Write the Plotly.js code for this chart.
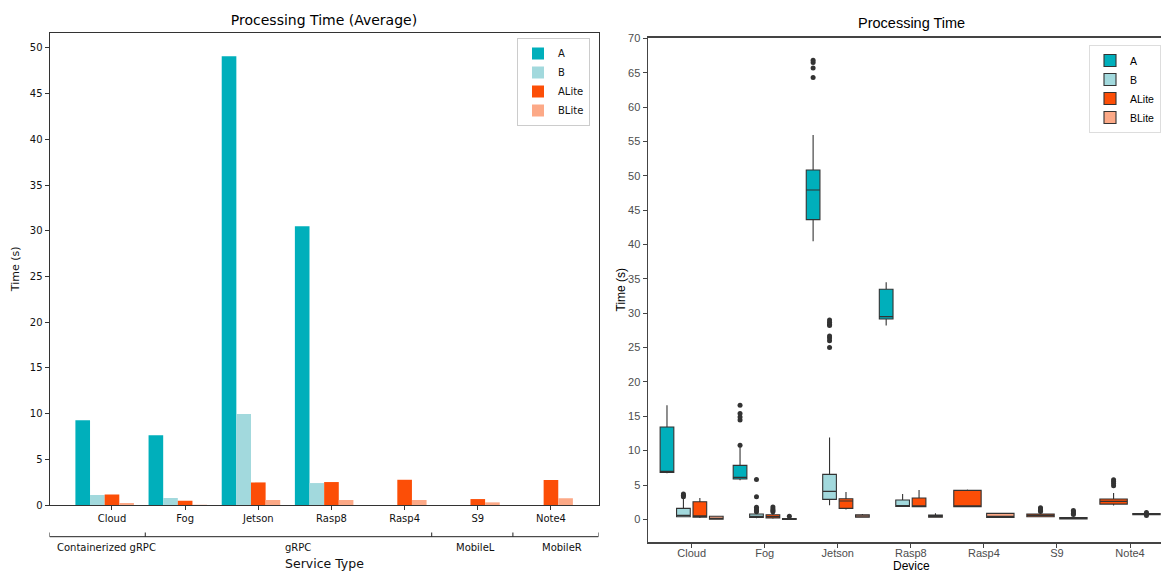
<!DOCTYPE html>
<html>
<head>
<meta charset="utf-8">
<script src="https://cdn.plot.ly/plotly-3.0.1.min.js"></script>
<style>html,body{margin:0;padding:0;background:#fff;overflow:hidden}#chart{width:1161px;height:572px}</style>
</head>
<body>
<div id="chart"></div>
<script>
// ---------- Left chart data: average processing time (s) ----------
const categories = ["Cloud", "Fog", "Jetson", "Rasp8", "Rasp4", "S9", "Note4"];
const seriesNames = ["A", "B", "ALite", "BLite"];
const avgA     = [9.27, 7.64, 49.1, 30.5, 0, 0, 0];
const avgB     = [1.09, 0.76, 9.96, 2.4, 0, 0, 0];
const avgALite = [1.16, 0.47, 2.47, 2.51, 2.76, 0.65, 2.73];
const avgBLite = [0.22, 0.03, 0.55, 0.55, 0.55, 0.29, 0.73];

// service-type grouping under the left chart (category-index boundaries)
const serviceTypes = ["Containerized gRPC", "gRPC", "MobileL", "MobileR"];
const serviceBounds = [-0.854, 0.455, 4.37, 5.48, 6.65];
const serviceLabelPos = [-0.08, 2.54, 4.97, 6.15];

// ---------- Right chart data: box statistics (s); null = no outliers ----------
const boxCats4 = ["Cloud", "Fog", "Jetson", "Rasp8"];
const boxCats2 = ["Rasp4", "S9", "Note4"];

const aQ1  = [6.84, 5.87, 43.62, 29.16];
const aMed = [6.99, 6.11, 47.94, 29.5];
const aQ3  = [13.45, 7.86, 50.85, 33.48];
const aLo  = [6.7, 5.7, 40.47, 28.2];
const aHi  = [16.6, 10.6, 55.94, 34.5];
const aOut = [[null], [10.8, 14.45, 14.9, 15.4, 16.6], [64.3, 65.7, 66.5, 66.8], [null]];

const bQ1  = [0.38, 0.29, 2.91, 1.86];
const bMed = [0.58, 0.46, 4.07, 2.0];
const bQ3  = [1.6, 0.77, 6.55, 2.81];
const bLo  = [0.3, 0.15, 2.06, 1.8];
const bHi  = [3.05, 1.0, 11.92, 3.68];
const bOut = [[3.3, 3.5, 3.7], [1.1, 1.3, 1.5, 1.75, 3.29, 5.8], [25.0, 26.0, 26.4, 26.7, 28.2, 28.4, 28.7, 29.0], [null]];

const alQ1  = [0.33, 0.19, 1.6, 1.84];
const alMed = [0.5, 0.4, 2.66, 1.98];
const alQ3  = [2.56, 0.67, 3.0, 3.1];
const alLo  = [0.2, 0.1, 1.45, 1.8];
const alHi  = [3.12, 0.9, 3.97, 4.26];
const alOut = [[null], [1.1, 1.3, 1.5, 1.8], [null], [null]];

const blQ1  = [0.02, 0.0, 0.3, 0.3];
const blMed = [0.08, 0.05, 0.48, 0.48];
const blQ3  = [0.45, 0.12, 0.66, 0.62];
const blLo  = [0.0, 0.0, 0.25, 0.25];
const blHi  = [0.5, 0.2, 0.77, 0.87];
const blOut = [[null], [0.45], [null], [null]];

const al2Q1  = [1.84, 0.38, 2.22];
const al2Med = [1.98, 0.58, 2.62];
const al2Q3  = [4.22, 0.77, 2.97];
const al2Lo  = [1.8, 0.3, 2.0];
const al2Hi  = [4.33, 1.0, 3.85];
const al2Out = [[null], [1.15, 1.3, 1.5, 1.7], [4.9, 5.2, 5.5, 5.75]];

const bl2Q1  = [0.27, 0.05, 0.68];
const bl2Med = [0.43, 0.15, 0.75];
const bl2Q3  = [0.87, 0.25, 0.86];
const bl2Lo  = [0.2, 0.0, 0.6];
const bl2Hi  = [0.92, 0.4, 0.9];
const bl2Out = [[null], [0.7, 0.9, 1.1, 1.3], [0.55, 0.98]];

// ---------- styling ----------
const colors = {A: "#00AFBB", B: "#A2D9DD", ALite: "#FC4E07", BLite: "#FCA987"};
const W = 1161, H = 572;
const mplFont = "DejaVu Sans";
const ggFont = "Liberation Sans, Arial, sans-serif";

const barSeries = [avgA, avgB, avgALite, avgBLite];
const barOffsets = [-0.5, -0.3, -0.1, 0.1];
const traces = [];
seriesNames.forEach((name, i) => {
  traces.push({
    type: "bar", name: name, x: categories, y: barSeries[i],
    xaxis: "x", yaxis: "y", offset: barOffsets[i], width: 0.2,
    marker: {color: colors[name], line: {width: 0}},
    legend: "legend", hoverinfo: "skip"
  });
});

function boxTrace(name, cats, q1, med, q3, lo, hi, out, group, showLegend) {
  return {
    type: "box", name: name, x: cats, y: out,
    q1: q1, median: med, q3: q3, lowerfence: lo, upperfence: hi,
    xaxis: "x2", yaxis: "y2",
    boxpoints: "outliers", jitter: 0, pointpos: 0, whiskerwidth: 0,
    fillcolor: colors[name],
    line: {color: "#333333", width: 1.1},
    marker: {color: "#333333", size: 5},
    alignmentgroup: group, offsetgroup: group + name,
    legend: "legend2", legendgroup: name, showlegend: showLegend,
    hoverinfo: "skip"
  };
}
traces.push(boxTrace("A", boxCats4, aQ1, aMed, aQ3, aLo, aHi, aOut, "g4", true));
traces.push(boxTrace("B", boxCats4, bQ1, bMed, bQ3, bLo, bHi, bOut, "g4", true));
traces.push(boxTrace("ALite", boxCats4, alQ1, alMed, alQ3, alLo, alHi, alOut, "g4", true));
traces.push(boxTrace("BLite", boxCats4, blQ1, blMed, blQ3, blLo, blHi, blOut, "g4", true));
traces.push(boxTrace("ALite", boxCats2, al2Q1, al2Med, al2Q3, al2Lo, al2Hi, al2Out, "g2", false));
traces.push(boxTrace("BLite", boxCats2, bl2Q1, bl2Med, bl2Q3, bl2Lo, bl2Hi, bl2Out, "g2", false));

// ---------- decorations ----------
const px = v => v / W, py = v => 1 - v / H;
const groupLineY = py(536.7), groupTickY = py(532.5);
const shapes = [{
  type: "line", xref: "x", yref: "paper",
  x0: serviceBounds[0], x1: serviceBounds[serviceBounds.length - 1],
  y0: groupLineY, y1: groupLineY, line: {color: "#222", width: 1}
}];
serviceBounds.forEach(b => shapes.push({
  type: "line", xref: "x", yref: "paper", x0: b, x1: b,
  y0: groupLineY, y1: groupTickY, line: {color: "#222", width: 1}
}));

const annotations = serviceTypes.map((t, i) => ({
  text: t, xref: "x", yref: "paper", x: serviceLabelPos[i], y: py(547),
  xanchor: "center", yanchor: "middle", showarrow: false,
  font: {family: mplFont, size: 10, color: "#111"}
}));
annotations.push(
  {text: "Service Type", xref: "x domain", yref: "paper", x: 0.5, y: py(563), xanchor: "center", yanchor: "middle",
   showarrow: false, font: {family: mplFont, size: 12.5, color: "#111"}},
  {text: "Time (s)", xref: "paper", yref: "y domain", x: px(15), y: 0.5, textangle: -90, xanchor: "center", yanchor: "middle",
   showarrow: false, font: {family: mplFont, size: 11, color: "#111"}},
  {text: "Processing Time", xref: "paper", yref: "paper", x: px(911), y: py(23), xanchor: "center", yanchor: "middle",
   showarrow: false, font: {family: ggFont, size: 14.5, color: "#000"}},
  {text: "Device", xref: "paper", yref: "paper", x: px(911), y: py(566), xanchor: "center", yanchor: "middle",
   showarrow: false, font: {family: ggFont, size: 12, color: "#000"}},
  {text: "Time (s)", xref: "paper", yref: "y2 domain", x: px(620.5), y: 0.5, textangle: -90, xanchor: "center", yanchor: "middle",
   showarrow: false, font: {family: ggFont, size: 12, color: "#000"}}
);

const layout = {
  width: W, height: H,
  margin: {l: 0, r: 0, t: 0, b: 0},
  paper_bgcolor: "#fff", plot_bgcolor: "#fff",
  title: {text: "Processing Time (Average)", xref: "paper", yref: "paper", x: px(324), y: py(20),
          xanchor: "center", yanchor: "middle", font: {family: mplFont, size: 14, color: "#000"}},
  boxmode: "group", boxgap: 0.1, boxgroupgap: 0.167,
  xaxis: {
    domain: [px(49.5), px(598.5)], anchor: "y", type: "category",
    categoryorder: "array", categoryarray: categories,
    range: [serviceBounds[0], serviceBounds[serviceBounds.length - 1]],
    showline: true, mirror: true, linecolor: "#333", linewidth: 1,
    ticks: "outside", ticklen: 4, tickcolor: "#333", tickwidth: 1,
    tickfont: {family: mplFont, size: 10, color: "#111"},
    showgrid: false, zeroline: false, fixedrange: true
  },
  yaxis: {
    domain: [py(505), py(33.3)], anchor: "x",
    range: [0, 51.6], tick0: 0, dtick: 5,
    showline: true, mirror: true, linecolor: "#333", linewidth: 1,
    ticks: "outside", ticklen: 4, tickcolor: "#333", tickwidth: 1,
    tickfont: {family: mplFont, size: 10, color: "#111"},
    showgrid: false, zeroline: false, fixedrange: true
  },
  xaxis2: {
    domain: [px(647.8), 1], anchor: "y2", type: "category",
    categoryorder: "array", categoryarray: categories,
    range: [-0.6, 6.424],
    showline: true, mirror: true, linecolor: "#444", linewidth: 1.3,
    ticks: "outside", ticklen: 4, tickcolor: "#444", tickwidth: 1,
    ticklabelstandoff: -4,
    tickfont: {family: ggFont, size: 11, color: "#4D4D4D"},
    showgrid: false, zeroline: false, fixedrange: true
  },
  yaxis2: {
    domain: [py(542.3), py(37.7)], anchor: "x2",
    range: [-3.34, 70.1], tick0: 0, dtick: 5,
    showline: true, linecolor: "#444", linewidth: 1.3,
    ticks: "outside", ticklen: 4, tickcolor: "#444", tickwidth: 1,
    tickfont: {family: ggFont, size: 11, color: "#4D4D4D"},
    showgrid: false, zeroline: false, fixedrange: true
  },
  legend: {
    x: px(590), xanchor: "right", y: py(38), yanchor: "top",
    bgcolor: "#fff", bordercolor: "#ccc", borderwidth: 1,
    font: {family: mplFont, size: 10, color: "#111"}, tracegroupgap: 0
  },
  legend2: {
    x: 1, xanchor: "right", y: py(45), yanchor: "top",
    bgcolor: "#fff", bordercolor: "#ddd", borderwidth: 1,
    font: {family: ggFont, size: 10.5, color: "#000"}, tracegroupgap: 0
  },
  shapes: shapes,
  annotations: annotations
};

Plotly.newPlot("chart", traces, layout, {displayModeBar: false, staticPlot: true});
</script>
</body>
</html>
